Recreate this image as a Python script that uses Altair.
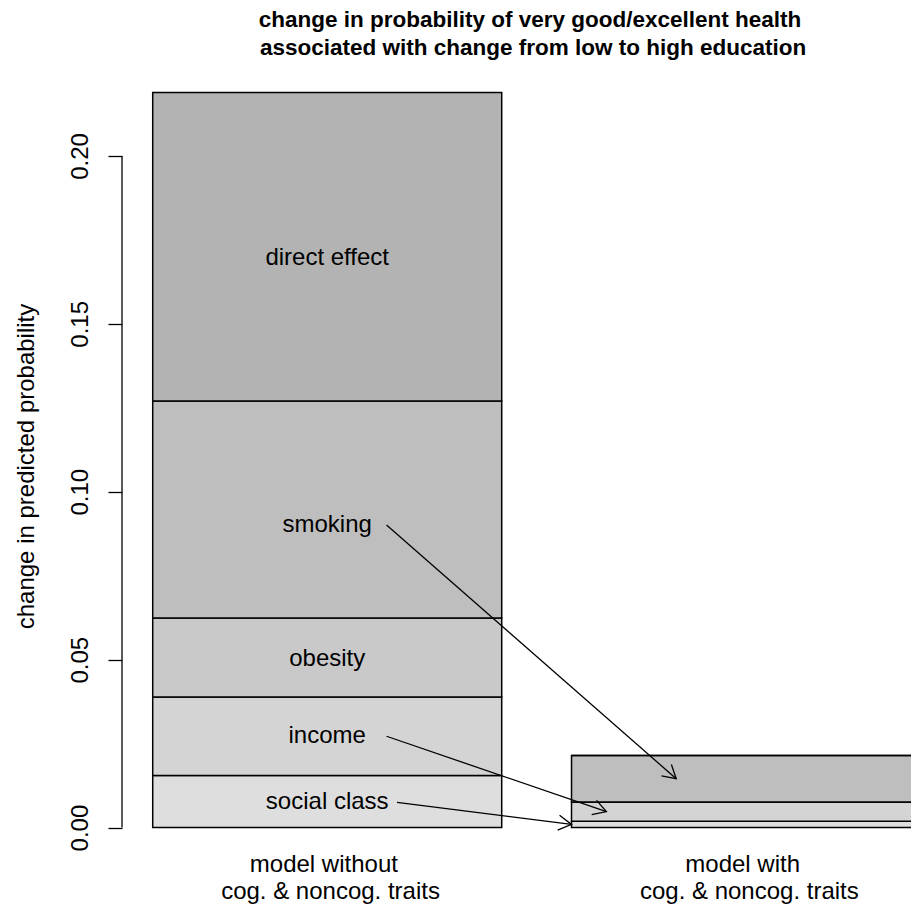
import math
import altair as alt
import pandas as pd

# ---------------- data ----------------
segments = ["social class", "income", "obesity", "smoking", "direct effect"]
seg_colors = ["#DEDEDE", "#D4D4D4", "#C9C9C9", "#BEBEBE", "#B3B3B3"]

SP_L = "\u200b\u00a0"   # leading space kept visible
SP_R = "\u00a0\u200b"   # trailing space kept visible

bar_line1 = ["model without" + SP_R, "model with" + SP_R]
bar_line2 = [SP_L + "cog. & noncog. traits", SP_L + "cog. & noncog. traits"]
bar_left = [0.2, 1.4]
bar_width = 1.0

without_values = [0.0155, 0.0234, 0.0235, 0.0646, 0.0919]
with_values = [0.0019, 0.0057, 0.0, 0.0139, 0.0]

label_y = [0.0075, 0.0272, 0.0501, 0.0901, 0.1697]

arrow_segments = ["social class", "income", "smoking"]
arrow_x0 = [0.90, 0.87, 0.87]
arrow_x1 = [1.4, 1.5, 1.7]

y_ticks = [0.0, 0.05, 0.10, 0.15, 0.20]

title_lines = [
    "change in probability of very good/excellent health",
    SP_L + "associated with change from low to high education",
]
y_title = "change in predicted probability"

FONT = "Liberation Sans, Arial, Helvetica, sans-serif"

# ---------------- layout ----------------
W, H = 789, 794
PX_X = 349.0
x_lo = 0.112
x_hi = x_lo + W / PX_X
ymax = sum(without_values)
y_lo = -0.04 * ymax
y_hi = 1.04 * ymax
PX_Y = H / (y_hi - y_lo)

# ---------------- tables ----------------
rows = []
for bi, vals in enumerate([without_values, with_values]):
    cum = 0.0
    for s, v in zip(segments, vals):
        rows.append({"bar": bar_line1[bi], "seg": s,
                     "x0": bar_left[bi], "x1": bar_left[bi] + bar_width,
                     "y0": cum, "y1": cum + v})
        cum += v
bars_df = pd.DataFrame(rows)

centers = [b + bar_width / 2 for b in bar_left]
labels_df = pd.DataFrame({"seg": segments, "x": centers[0], "y0": label_y})
xlab_df = pd.DataFrame({"x": centers,
                        "txt": [a + "\n" + b for a, b in zip(bar_line1, bar_line2)]})

arows = []
for s, xa, xb in zip(arrow_segments, arrow_x0, arrow_x1):
    i = segments.index(s)
    ya = label_y[i]
    yb = sum(with_values[:i]) + with_values[i] / 2
    dx = (xb - xa) * PX_X
    dy = (ya - yb) * PX_Y
    ang = math.degrees(math.atan2(dy, dx)) % 360
    arows.append({"seg": s, "xa": xa, "y0": ya, "xb": xb, "y1": yb, "ang": ang})
arrows_df = pd.DataFrame(arows)

axis_df = pd.DataFrame({"y0": [y_ticks[0]], "y1": [y_ticks[-1]]})

xscale = alt.Scale(domain=[x_lo, x_hi], nice=False, zero=False)
yscale = alt.Scale(domain=[y_lo, y_hi], nice=False, zero=False)

y_axis = alt.Axis(values=y_ticks, format=".2f", labelAngle=270, labelAlign="center",
                  labelBaseline="bottom", labelPadding=16, tickSize=14,
                  tickColor="black", tickWidth=1.3, domain=False, grid=False,
                  labelFont=FONT, labelFontSize=24, labelColor="black",
                  title=y_title, titleFont=FONT, titleFontSize=24,
                  titleFontWeight="normal", titleColor="black", titleAngle=270,
                  titleX=-89, titleY=403, titleAlign="center",
                  titleBaseline="alphabetic")


def Y(field):
    return alt.Y(field, scale=yscale, axis=y_axis, title=y_title)


def X(field):
    return alt.X(field, scale=xscale, axis=None)


bars = alt.Chart(bars_df).mark_rect(stroke="black", strokeWidth=1.5, clip=True).encode(
    x=X("x0:Q"),
    x2="x1:Q",
    y=Y("y0:Q"),
    y2="y1:Q",
    color=alt.Color("seg:N", scale=alt.Scale(domain=segments, range=seg_colors), legend=None),
)

axis_line = alt.Chart(axis_df).mark_rule(color="black", strokeWidth=1.3).encode(
    x=alt.value(0),
    y=Y("y0:Q"),
    y2="y1:Q",
)

texts = alt.Chart(labels_df).mark_text(font=FONT, fontSize=24, color="black",
                                       align="center", baseline="middle").encode(
    x=X("x:Q"),
    y=Y("y0:Q"),
    text="seg:N",
)

xlabels = alt.Chart(xlab_df).mark_text(font=FONT, fontSize=24, color="black",
                                       align="center", baseline="alphabetic",
                                       lineBreak="\n", lineHeight=26.5).encode(
    x=X("x:Q"),
    y=alt.value(H + 15),
    text="txt:N",
)

shafts = alt.Chart(arrows_df).mark_rule(color="black", strokeWidth=1.3).encode(
    x=X("xa:Q"),
    y=Y("y0:Q"),
    x2="xb:Q",
    y2="y1:Q",
)

heads = alt.Chart(arrows_df).mark_point(
    shape="M-0.866,-0.5L0,0L-0.866,0.5", filled=False, stroke="black",
    strokeWidth=1.3, opacity=1, size=900,
).encode(
    x=X("xb:Q"),
    y=Y("y1:Q"),
    angle=alt.Angle("ang:Q", scale=None),
)

chart = alt.layer(bars, axis_line, texts, xlabels, shafts, heads).properties(
    width=W,
    height=H,
    title=alt.TitleParams(text=title_lines, font=FONT, fontSize=22.5,
                          fontWeight="bold", color="black", anchor="middle",
                          frame="group", dx=13.5, offset=4, lineHeight=28),
    autosize=alt.AutoSizeParams(type="none"),
    padding={"left": 114, "top": 55, "right": 0, "bottom": 47},
).configure_view(stroke=None)

chart.save("out.html", embed_options={"renderer": "svg", "actions": False})
